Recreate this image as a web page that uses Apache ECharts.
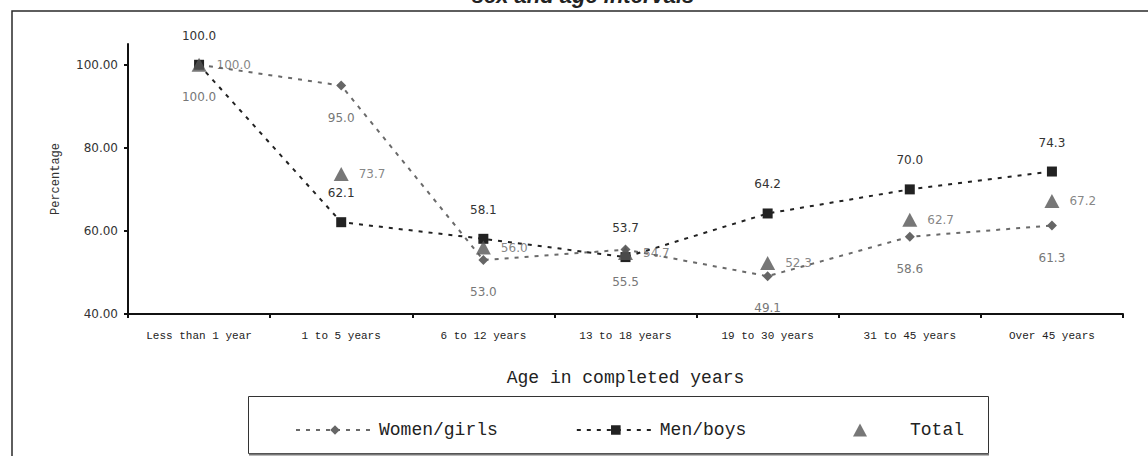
<!DOCTYPE html>
<html>
<head>
<meta charset="utf-8">
<script src="https://cdn.jsdelivr.net/npm/echarts@6/dist/echarts.min.js"></script>
<style>
  html, body { margin: 0; padding: 0; background: #fff; }
  #chart { width: 1148px; height: 456px; }
</style>
</head>
<body>
<div id="chart"></div>
<script>
// Age groups on the x axis
const categories = ['Less than 1 year', '1 to 5 years', '6 to 12 years', '13 to 18 years',
                    '19 to 30 years', '31 to 45 years', 'Over 45 years'];
// Percentages per group
const womenValues = [100.0, 95.0, 53.0, 55.5, 49.1, 58.6, 61.3];
const menValues   = [100.0, 62.1, 58.1, 53.7, 64.2, 70.0, 74.3];
const totalValues = [100.0, 73.7, 56.0, 54.7, 52.3, 62.7, 67.2];
// Y axis tick values
const yTicks = [40, 60, 80, 100];

const monoFont = '"Liberation Mono", "DejaVu Sans Mono", monospace';
const sansFont = '"DejaVu Sans", sans-serif';

const chart = echarts.init(document.getElementById('chart'), null, { renderer: 'svg' });

const labelBase = {
  show: true,
  fontFamily: sansFont,
  fontSize: 12,
  formatter: p => p.value.toFixed(1)
};

chart.setOption({
  animation: false,
  backgroundColor: '#ffffff',
  grid: { left: 128, right: 25, top: 44, bottom: 142 },
  graphic: [
    {
      type: 'rect', z: -10, silent: true,
      shape: { x: 12, y: 11, width: 1200, height: 520 },
      style: { fill: 'none', stroke: '#2a2a2a', lineWidth: 1.5 }
    },
    {
      type: 'text', silent: true,
      style: {
        text: 'sex and age intervals',
        x: 583, y: 6,
        align: 'center', verticalAlign: 'bottom',
        font: 'italic bold 22px "Liberation Sans", Arial, sans-serif',
        fill: '#222'
      }
    },
    {
      type: 'rect', z: -5, silent: true,
      shape: { x: 248.5, y: 396.5, width: 740, height: 57 },
      style: { fill: '#fff', stroke: '#333', lineWidth: 1 }
    },
    {
      type: 'line', z: -4, silent: true,
      shape: { x1: 249, y1: 454.5, x2: 989, y2: 454.5 },
      style: { stroke: '#777', lineWidth: 2 }
    }
  ],
  legend: [
    {
      data: ['Women/girls', 'Men/boys'],
      left: 290, top: 416,
      itemWidth: 78, itemHeight: 12, itemGap: 78,
      textStyle: { fontFamily: monoFont, fontSize: 18, color: '#222' }
    },
    {
      data: ['Total'],
      left: 848, top: 416,
      itemWidth: 14, itemHeight: 13,
      icon: 'triangle',
      textStyle: { fontFamily: monoFont, fontSize: 18, color: '#222', padding: [0, 0, 0, 38] }
    }
  ],
  xAxis: {
    type: 'category',
    data: categories,
    boundaryGap: true,
    name: 'Age in completed years',
    nameLocation: 'middle',
    nameGap: 55,
    nameTextStyle: { fontFamily: monoFont, fontSize: 18, color: '#222' },
    axisLine: { lineStyle: { color: '#111', width: 2 } },
    axisTick: { show: true, length: 4, alignWithLabel: false, lineStyle: { color: '#111', width: 2 } },
    axisLabel: { fontFamily: monoFont, fontSize: 11, color: '#222', margin: 16, interval: 0 },
    splitLine: { show: false }
  },
  yAxis: {
    type: 'value',
    min: 40, max: 105, interval: 20,
    name: 'Percentage',
    nameLocation: 'middle',
    nameGap: 66,
    nameRotate: 90,
    nameTextStyle: { fontFamily: monoFont, fontSize: 12, color: '#333' },
    axisLine: { show: true, lineStyle: { color: '#111', width: 2 } },
    axisTick: { show: true, length: 4, customValues: yTicks, lineStyle: { color: '#111', width: 2 } },
    axisLabel: {
      customValues: yTicks,
      fontFamily: sansFont, fontSize: 12, color: '#333', margin: 10,
      formatter: v => v.toFixed(2)
    },
    splitLine: { show: false }
  },
  series: [
    {
      name: 'Women/girls',
      type: 'line',
      data: womenValues,
      symbol: 'diamond',
      symbolSize: 10,
      itemStyle: { color: '#666' },
      lineStyle: { color: '#6a6a6a', width: 2, type: [4, 6] },
      label: Object.assign({}, labelBase, { position: 'bottom', distance: 21, color: '#777' }),
      z: 2
    },
    {
      name: 'Men/boys',
      type: 'line',
      data: menValues,
      symbol: 'rect',
      symbolSize: 10,
      itemStyle: { color: '#222' },
      lineStyle: { color: '#222', width: 2, type: [4, 6] },
      label: Object.assign({}, labelBase, { position: 'top', distance: 18, color: '#333' }),
      z: 3
    },
    {
      name: 'Total',
      type: 'scatter',
      data: totalValues,
      symbol: 'triangle',
      symbolSize: [15, 14],
      itemStyle: { color: '#555' },
      label: Object.assign({}, labelBase, { position: 'right', distance: 10, color: '#666' }),
      z: 10
    }
  ]
});
</script>
</body>
</html>
